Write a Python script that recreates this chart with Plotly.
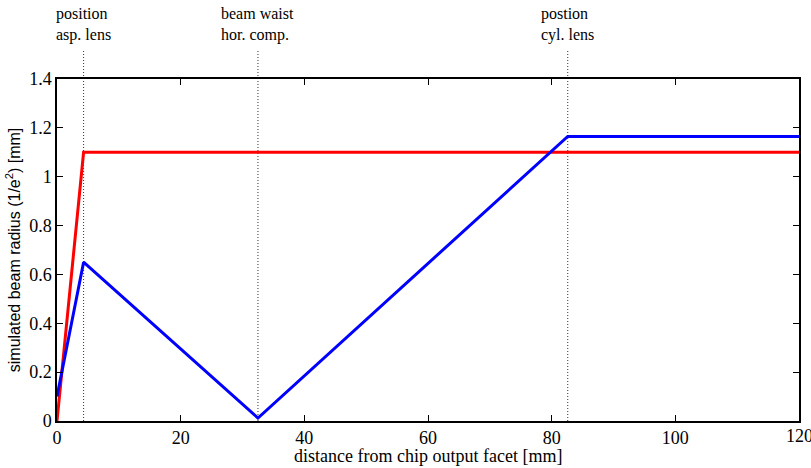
import plotly.graph_objects as go

# Data
lens_positions = [4.3, 32.5, 82.6]
lens_labels = ["position<br>asp. lens", "beam waist<br>hor. comp.", "postion<br>cyl. lens"]

red_x = [0, 4.3, 120]
red_y = [0, 1.1, 1.1]

blue_x = [0, 4.3, 32.5, 82.6, 120]
blue_y = [0.1, 0.65, 0.012, 1.165, 1.165]

x_ticks = [0, 20, 40, 60, 80, 100, 120]
y_ticks = [0, 0.2, 0.4, 0.6, 0.8, 1, 1.2, 1.4]

SERIF = "'Times New Roman', 'Liberation Serif', 'DejaVu Serif', serif"

fig = go.Figure()

fig.add_trace(go.Scatter(x=red_x, y=red_y, mode="lines",
                         line=dict(color="#ff0000", width=3), showlegend=False))
fig.add_trace(go.Scatter(x=blue_x, y=blue_y, mode="lines",
                         line=dict(color="#0000ff", width=3), showlegend=False))

shapes = []
annotations = []
for xp, lab in zip(lens_positions, lens_labels):
    shapes.append(dict(type="line", xref="x", yref="paper", x0=xp, x1=xp, y0=0, y1=1.085,
                       line=dict(color="#333333", width=1, dash="1px,2px"), layer="below"))
    annotations.append(dict(x=xp, y=1.222, xref="x", yref="paper", text=lab, showarrow=False,
                            xanchor="center", yanchor="top", align="left",
                            font=dict(family=SERIF, size=16, color="black")))

# last x tick label (plotly hides it because it sticks out of the page, as in the reference)
annotations.append(dict(x=x_ticks[-1], y=0, xref="x", yref="paper", text=str(x_ticks[-1]),
                        showarrow=False, xanchor="center", yanchor="top", yshift=-3,
                        font=dict(family=SERIF, size=18, color="black")))

# x-axis title
annotations.append(dict(x=0.5, y=-0.102, xref="paper", yref="paper",
                        text="distance from chip output facet [mm]", showarrow=False,
                        xanchor="center", yanchor="middle",
                        font=dict(family=SERIF, size=18, color="black")))

# y-axis title, near the left edge as in the reference
annotations.append(dict(x=-0.059, y=0.5, xref="paper", yref="paper",
                        text="simulated beam radius (1/e<sup>2</sup>) [mm]", showarrow=False,
                        textangle=-90, xanchor="center", yanchor="middle",
                        font=dict(family="'Liberation Sans', Arial, sans-serif", size=16, color="black")))

fig.update_layout(
    width=811, height=468,
    margin=dict(l=57, r=12, t=79, b=47, autoexpand=False),
    paper_bgcolor="white", plot_bgcolor="white",
    font=dict(family=SERIF, size=18, color="black"),
    shapes=shapes, annotations=annotations,
    xaxis=dict(range=[0, 120], tickvals=x_ticks, ticks="inside", ticklen=6, tickwidth=1,
               tickcolor="black", showgrid=False, zeroline=False, showline=True,
               linecolor="black", linewidth=1.5, mirror="ticks", automargin=False),
    yaxis=dict(range=[0, 1.4], tickvals=y_ticks, ticks="inside", ticklen=6, tickwidth=1,
               tickcolor="black", showgrid=False, zeroline=False, showline=True,
               linecolor="black", linewidth=1.5, mirror="ticks", automargin=False),
)

fig.write_html("out.html")
